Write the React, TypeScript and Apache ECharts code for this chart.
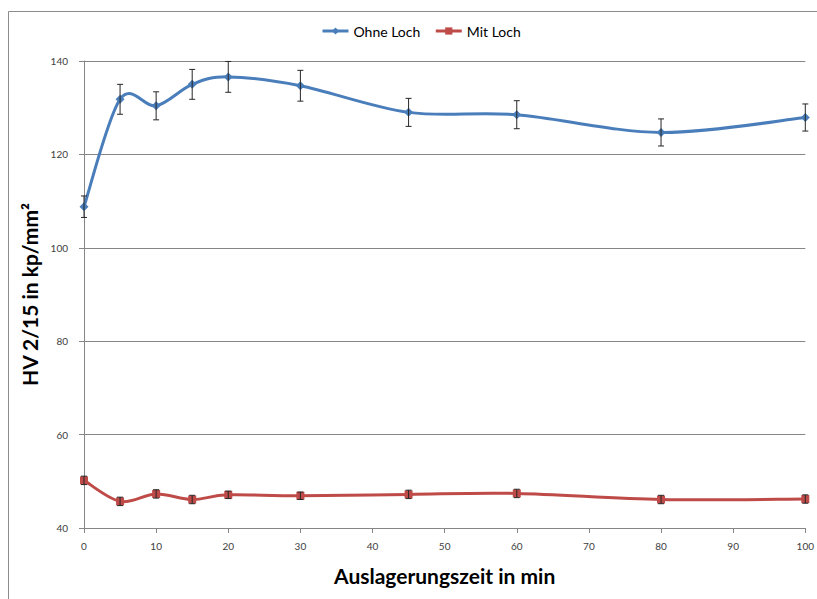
import React, { useEffect, useRef } from "react";
import * as echarts from "echarts";

const times = [0, 5, 10, 15, 20, 30, 45, 60, 80, 100];
const ohneLoch = [108.8, 131.8, 130.4, 135.0, 136.6, 134.7, 129.0, 128.5, 124.7, 127.9];
const ohneLochErr = [2.3, 3.2, 3.0, 3.2, 3.3, 3.3, 3.0, 3.0, 2.9, 2.9];
const mitLoch = [50.2, 45.7, 47.3, 46.1, 47.1, 46.9, 47.2, 47.4, 46.1, 46.2];
const mitLochErr = [0.9, 0.9, 0.9, 0.9, 0.8, 0.8, 0.9, 0.9, 0.9, 0.9];
const seriesNames = ["Ohne Loch", "Mit Loch"];
const xTitle = "Auslagerungszeit in min";
const yTitle = "HV 2/15 in kp/mm²";

const FONT = "Lato, 'Open Sans', sans-serif";
const BLUE = "#4a7ebb";
const RED = "#be4b48";

function errData(vals: number[], errs: number[]) {
  return times.map((t, i) => [t, vals[i] - errs[i], vals[i] + errs[i]]);
}

function errRender(params: any, api: any) {
  const x = api.value(0);
  const lo = api.value(1);
  const hi = api.value(2);
  const top = api.coord([x, hi]);
  const bot = api.coord([x, lo]);
  const w = 3;
  const st = { stroke: "#262626", lineWidth: 1 };
  return {
    type: "group",
    children: [
      { type: "line", shape: { x1: top[0], y1: top[1], x2: bot[0], y2: bot[1] }, style: st },
      { type: "line", shape: { x1: top[0] - w, y1: top[1], x2: top[0] + w, y2: top[1] }, style: st },
      { type: "line", shape: { x1: bot[0] - w, y1: bot[1], x2: bot[0] + w, y2: bot[1] }, style: st },
    ],
  };
}

// Excel-like smoothed curve (Catmull-Rom as cubic Bezier), one segment per data item
function curveRender(vals: number[], color: string) {
  return (params: any, api: any) => {
    const i = params.dataIndex;
    const n = times.length;
    if (i >= n - 1) return null;
    const pt = (j: number) => {
      const k = Math.max(0, Math.min(n - 1, j));
      return api.coord([times[k], vals[k]]);
    };
    const p0 = pt(i - 1);
    const p1 = pt(i);
    const p2 = pt(i + 1);
    const p3 = pt(i + 2);
    const t = 1 / 6;
    return {
      type: "bezierCurve",
      shape: {
        x1: p1[0],
        y1: p1[1],
        x2: p2[0],
        y2: p2[1],
        cpx1: p1[0] + (p2[0] - p0[0]) * t,
        cpy1: p1[1] + (p2[1] - p0[1]) * t,
        cpx2: p2[0] - (p3[0] - p1[0]) * t,
        cpy2: p2[1] - (p3[1] - p1[1]) * t,
      },
      style: { stroke: color, lineWidth: 3, fill: null, lineCap: "round" },
    };
  };
}

export default function App() {
  const ref = useRef<HTMLDivElement>(null);
  useEffect(() => {
    if (!ref.current) return;
    const chart = echarts.init(ref.current, undefined, { renderer: "svg" });
    const axisGrey = "#868686";
    chart.setOption({
      animation: false,
      backgroundColor: "#ffffff",
      textStyle: { fontFamily: FONT },
      graphic: [
        {
          type: "rect",
          silent: true,
          shape: { x: 8.5, y: 11.5, width: 900, height: 700 },
          style: { fill: "none", stroke: "#8c8c8c", lineWidth: 1 },
        },
      ],
      legend: {
        data: seriesNames,
        left: 316,
        top: 19,
        itemWidth: 26,
        itemHeight: 9,
        itemGap: 14,
        lineStyle: { opacity: 1, width: 3 },
        textStyle: { fontFamily: FONT, fontSize: 14, color: "#000" },
      },
      grid: { left: 84, right: 7, top: 61, bottom: 71, containLabel: false },
      xAxis: {
        type: "value",
        min: 0,
        max: 100,
        interval: 10,
        name: xTitle,
        nameLocation: "middle",
        nameGap: 37,
        nameTextStyle: { fontFamily: FONT, fontSize: 21, fontWeight: "bold", color: "#000" },
        axisLine: { show: true, lineStyle: { color: axisGrey, width: 1 } },
        axisTick: { show: true, length: 5, lineStyle: { color: axisGrey } },
        axisLabel: { fontSize: 10, color: "#404040", margin: 13, fontFamily: FONT },
        splitLine: { show: false },
      },
      yAxis: {
        type: "value",
        min: 40,
        max: 140,
        interval: 20,
        name: yTitle,
        nameLocation: "middle",
        nameGap: 32,
        nameTextStyle: { fontFamily: FONT, fontSize: 21, fontWeight: "bold", color: "#000" },
        axisLine: { show: true, lineStyle: { color: axisGrey, width: 1 } },
        axisTick: { show: true, length: 5, lineStyle: { color: axisGrey } },
        axisLabel: { fontSize: 10, color: "#404040", margin: 16, fontFamily: FONT },
        splitLine: { show: true, lineStyle: { color: axisGrey, width: 1 } },
      },
      series: [
        {
          type: "custom",
          renderItem: curveRender(ohneLoch, BLUE),
          data: times.map((t, i) => [t, ohneLoch[i]]),
          z: 2,
          silent: true,
        },
        {
          type: "custom",
          renderItem: curveRender(mitLoch, RED),
          data: times.map((t, i) => [t, mitLoch[i]]),
          z: 2,
          silent: true,
        },
        {
          name: seriesNames[0],
          type: "line",
          data: times.map((t, i) => [t, ohneLoch[i]]),
          symbol: "diamond",
          symbolSize: 9,
          lineStyle: { color: BLUE, width: 3, opacity: 0 },
          itemStyle: { color: BLUE },
          z: 3,
        },
        {
          name: seriesNames[1],
          type: "line",
          data: times.map((t, i) => [t, mitLoch[i]]),
          symbol: "rect",
          symbolSize: 8,
          lineStyle: { color: RED, width: 3, opacity: 0 },
          itemStyle: { color: RED },
          z: 3,
        },
        {
          type: "custom",
          renderItem: errRender,
          data: errData(ohneLoch, ohneLochErr),
          z: 4,
          silent: true,
        },
        {
          type: "custom",
          renderItem: errRender,
          data: errData(mitLoch, mitLochErr),
          z: 4,
          silent: true,
        },
      ],
    });
    return () => chart.dispose();
  }, []);
  return (
    <div
      ref={ref}
      style={{ position: "absolute", left: 0, top: 0, width: 817, height: 599 }}
    />
  );
}
